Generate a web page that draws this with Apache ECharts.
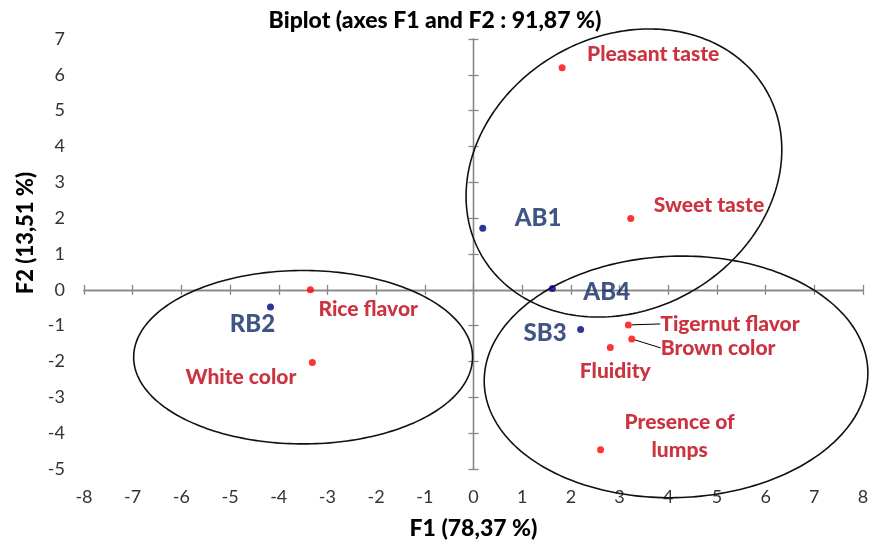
<!DOCTYPE html>
<html><head><meta charset="utf-8">
<script src="https://cdn.jsdelivr.net/npm/echarts@6/dist/echarts.min.js"></script>
<style>html,body{margin:0;padding:0;background:#fff}#c{width:872px;height:548px}</style>
</head><body><div id="c"></div>
<script>
// ---- data ----
const titleText = 'Biplot (axes F1 and F2 : 91,87 %)';
const xName = 'F1 (78,37 %)';
const yName = 'F2 (13,51 %)';
const xRange = [-8, 8];
const yRange = [-5, 7];
const tickStep = [1];

const obsNames = ['AB1', 'AB4', 'SB3', 'RB2'];
const obsF1 = [0.19, 1.62, 2.20, -4.17];
const obsF2 = [1.72, 0.04, -1.11, -0.48];

const varNames = ['Pleasant taste', 'Sweet taste', 'Tigernut flavor', 'Brown color', 'Fluidity', 'Presence of\nlumps', 'Rice flavor', 'White color'];
const varF1 = [1.82, 3.23, 3.18, 3.25, 2.81, 2.61, -3.35, -3.31];
const varF2 = [6.20, 1.99, -0.98, -1.37, -1.61, -4.46, 0.00, -2.03];

// group ellipses: centre and two conjugate semi-diameters (F1, F2 units)
const ellCenterF1 = [3.09, -3.50, 4.16];
const ellCenterF2 = [3.26, -1.88, -2.43];
const ellU_F1 = [2.92, 3.48, 3.94];
const ellU_F2 = [2.31, 0.00, 0.11];
const ellV_F1 = [-1.41, 0.00, 0.00];
const ellV_F2 = [3.29, 2.42, 3.37];

// ---- label placement (style) ----
const labelPlace = {
  'AB1': ['left', 32, -10],
  'AB4': ['left', 31, 4],
  'SB3': ['right', -14, 4],
  'RB2': ['center', -18, 17],
  'Pleasant taste': ['left', 25, -13],
  'Sweet taste': ['left', 23, -13],
  'Tigernut flavor': ['left', 32, -1],
  'Brown color': ['left', 29, 9],
  'Fluidity': ['center', 5, 24],
  'Presence of\nlumps': ['center', 79, -13],
  'Rice flavor': ['left', 8, 19],
  'White color': ['right', -16, 15]
};
const leader = { 'Tigernut flavor': 'straight', 'Brown color': 'elbow' };

const FONT = 'Lato';
const HEAVY = 900;
const axisGray = '#868686';

function layoutFn(names) {
  return function (p) {
    const nm = names[p.dataIndex];
    const pl = labelPlace[nm];
    const cx = p.rect.x + p.rect.width / 2;
    const cy = p.rect.y + p.rect.height / 2;
    const lx = p.labelRect.x + p.labelRect.width / 2;
    const ly = p.labelRect.y + p.labelRect.height / 2;
    const res = { dx: cx + pl[1] - lx, dy: cy + pl[2] - ly };
    if (pl[0] === 'left') res.dx = cx + pl[1] - p.labelRect.x;
    if (pl[0] === 'right') res.dx = cx + pl[1] - (p.labelRect.x + p.labelRect.width);
    const kind = leader[nm];
    if (kind) {
      const ex = cx + pl[1] - 3, ey = cy + pl[2];
      if (kind === 'straight') res.labelLinePoints = [[cx + 3, cy], [ex - 6, ey], [ex, ey]];
      else res.labelLinePoints = [[cx + 1, cy + 3], [cx + 5, ey], [ex, ey]];
    }
    return res;
  };
}

const baseAxis = (range) => ({
  type: 'value', min: range[0], max: range[1], interval: tickStep[0],
  splitLine: { show: false }
});
const zeroAxis = (range, pos) => Object.assign(baseAxis(range), {
  position: pos,
  axisLine: { show: true, onZero: true, onZeroAxisIndex: 0, lineStyle: { color: axisGray, width: 1.3 } },
  axisTick: { show: true, length: 5, lineStyle: { color: axisGray, width: 1.3 } },
  axisLabel: { show: false }
});

const chart = echarts.init(document.getElementById('c'), null, { renderer: 'canvas' });
chart.setOption({
  animation: false,
  backgroundColor: '#ffffff',
  title: {
    text: titleText, left: 430, top: 4, textAlign: 'center',
    textStyle: { fontFamily: FONT, fontWeight: HEAVY, fontSize: 23, color: '#000' }
  },
  grid: { left: 84, right: 9, top: 39, bottom: 79, outerBoundsMode: 'none', containLabel: false },
  xAxis: [
    Object.assign(baseAxis(xRange), {
      position: 'bottom',
      axisLine: { show: false, onZero: false }, axisTick: { show: false },
      axisLabel: { margin: 19, fontFamily: FONT, fontSize: 18, color: '#333' },
      name: xName, nameLocation: 'middle', nameGap: 48,
      nameTextStyle: { fontFamily: FONT, fontWeight: HEAVY, fontSize: 23, color: '#000' }
    }),
    zeroAxis(xRange, 'bottom'),
    zeroAxis(xRange, 'top')
  ],
  yAxis: [
    Object.assign(baseAxis(yRange), {
      position: 'left',
      axisLine: { show: false, onZero: false }, axisTick: { show: false },
      axisLabel: { margin: 19, fontFamily: FONT, fontSize: 18, color: '#333' },
      name: yName, nameLocation: 'middle', nameGap: 46, nameRotate: 90,
      nameTextStyle: { fontFamily: FONT, fontWeight: HEAVY, fontSize: 22, color: '#000', padding: [0, 0, 0, 42] }
    }),
    zeroAxis(yRange, 'left'),
    zeroAxis(yRange, 'right')
  ],
  series: [
    {
      type: 'custom', silent: true, z: 1,
      dimensions: ['cx', 'cy', 'ux', 'uy', 'vx', 'vy'],
      encode: { x: 0, y: 1 },
      data: ellCenterF1.map((c, i) => [c, ellCenterF2[i], ellU_F1[i], ellU_F2[i], ellV_F1[i], ellV_F2[i]]),
      renderItem: function (params, api) {
        const cx = api.value(0), cy = api.value(1);
        const ux = api.value(2), uy = api.value(3), vx = api.value(4), vy = api.value(5);
        const pts = [];
        const N = 240;
        for (let k = 0; k < N; k++) {
          const t = 2 * Math.PI * k / N;
          pts.push(api.coord([cx + ux * Math.cos(t) + vx * Math.sin(t), cy + uy * Math.cos(t) + vy * Math.sin(t)]));
        }
        return { type: 'polygon', shape: { points: pts }, style: { fill: null, stroke: '#111', lineWidth: 1.6 } };
      }
    },
    {
      type: 'scatter', z: 3, symbolSize: 7,
      itemStyle: { color: '#00007a' },
      data: obsNames.map((n, i) => ({ name: n, value: [obsF1[i], obsF2[i]] })),
      label: { show: true, position: 'inside', formatter: '{b}', fontFamily: FONT, fontWeight: HEAVY, fontSize: 24, color: '#102a66' },
      labelLayout: layoutFn(obsNames)
    },
    {
      type: 'scatter', z: 3, symbolSize: 7,
      itemStyle: { color: '#ff0000' },
      data: varNames.map((n, i) => ({ name: n, value: [varF1[i], varF2[i]], labelLine: { show: !!leader[n] } })),
      label: { show: true, position: 'inside', formatter: '{b}', fontFamily: FONT, fontWeight: HEAVY, fontSize: 21, color: '#bf0010', lineHeight: 28, align: 'center' },
      labelLine: { show: false, lineStyle: { color: '#000', width: 1 } },
      labelLayout: layoutFn(varNames)
    }
  ]
});
</script></body></html>
